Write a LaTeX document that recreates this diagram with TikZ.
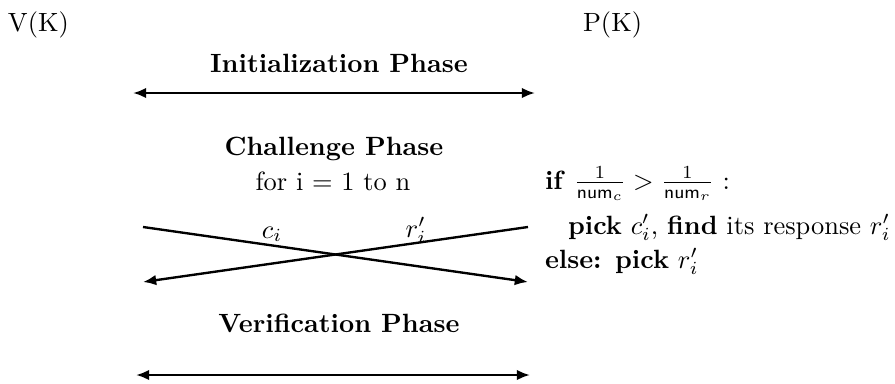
\documentclass[tikz,border=0pt]{standalone}
\usetikzlibrary{arrows.meta}
\begin{document}
\begin{tikzpicture}[x=0.3788pt,y=-0.3788pt,
  lbl/.style={inner sep=0pt,outer sep=0pt,anchor=base},
  lblw/.style={inner sep=0pt,outer sep=0pt,anchor=base west},
  tip/.style={Latex[length=5pt,width=4pt]},
  msg/.style={line width=0.9pt,-{Latex[length=5pt,width=4pt]}},
  bimsg/.style={line width=0.9pt,{Latex[length=5pt,width=4pt]}-{Latex[length=5pt,width=4pt]}}]
\useasboundingbox (0,0) rectangle (895,383);
% parties
\node[lblw] (V) at (8,31) {V(K)};
\node[lblw] (P) at (583,31) {P(K)};
% initialization
\node[lbl] (init) at (339,72) {\textbf{Initialization Phase}};
\coordinate (i1) at (133,93);
\coordinate (i2) at (535,93);
\draw[bimsg] (i1) -- (i2);
% challenge
\node[lbl] (chal) at (334,155) {\textbf{Challenge Phase}};
\node[lbl] (loop) at (333,190) {for i = 1 to n};
\coordinate (a1) at (143,227);
\coordinate (a2) at (528,282);
\coordinate (b1) at (528,227);
\coordinate (b2) at (143,282);
\draw[msg] (a1) -- (a2);
\draw[msg] (b1) -- (b2);
\node[lbl] (ci) at (272,238) {$c_i$};
\node[lbl] (ri) at (416,237) {$r'_i$};
% prover computation
\node[lblw] (if) at (545,189) {\textbf{if} $\frac{1}{\mathsf{num}_c} > \frac{1}{\mathsf{num}_r}$ :};
\node[lblw] (pick) at (568,234) {\textbf{pick} $c'_i$, \textbf{find} its response $r'_i$};
\node[lblw] (else) at (545,268) {\textbf{else: pick} $r'_i$};
% verification
\node[lbl] (ver) at (339,332) {\textbf{Verification Phase}};
\coordinate (v1) at (136,375);
\coordinate (v2) at (530,375);
\draw[bimsg] (v1) -- (v2);
\end{tikzpicture}
\end{document}
